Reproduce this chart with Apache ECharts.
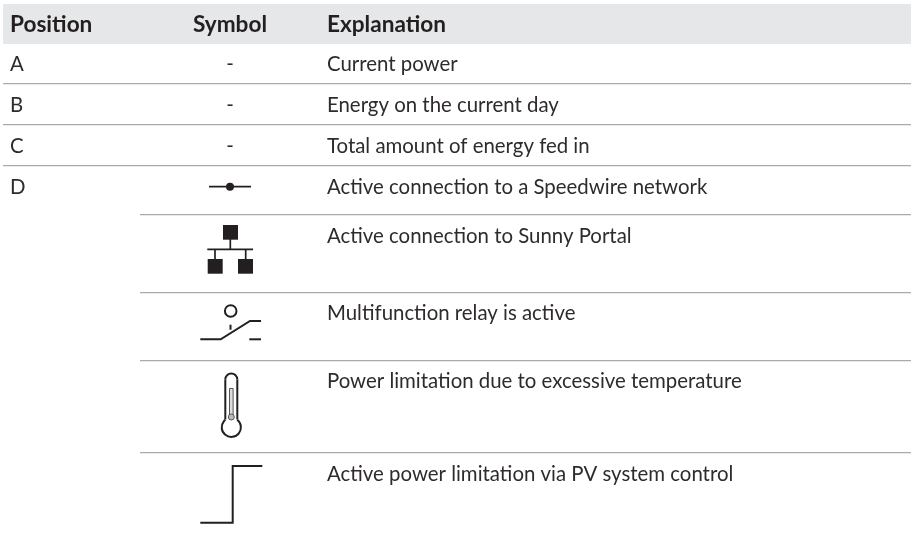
<!DOCTYPE html>
<html><head><meta charset="utf-8">
<style>html,body{margin:0;padding:0;background:#fff}#c{width:911px;height:539px}</style>
<script src="https://cdn.jsdelivr.net/npm/echarts@6/dist/echarts.min.js"></script>
</head><body><div id="c"></div>
<script>
const headers = ['Position','Symbol','Explanation'];
const positions = ['A','B','C','D'];
const dashes = ['-','-','-'];
const explanations = ['Current power','Energy on the current day','Total amount of energy fed in','Active connection to a Speedwire network','Active connection to Sunny Portal','Multifunction relay is active','Power limitation due to excessive temperature','Active power limitation via PV system control'];

const INK='#231f20', FONT='Lato';
const textY=[64,105,146,187,236,313.5,381.5,474];   // middle of text lines per row
const ruleY=[83.7,124.7,165.7,214.7,292.7,360.7,452.7];
const g=[];
g.push({type:'rect',shape:{x:3,y:4,width:908,height:40},style:{fill:'#e6e7e8'}});
ruleY.forEach((y,i)=>g.push({type:'line',shape:{x1:i<3?3:140,y1:y,x2:911,y2:y},style:{stroke:'#a8aaab',lineWidth:1.3}}));
function T(s,x,y,bold,align){g.push({type:'text',x:x,y:y,style:{text:s,x:0,y:0,fill:bold?INK:'#2f2b2c',font:(bold?'bold 22.6px ':'400 20.4px ')+FONT,align:align||'left',verticalAlign:'middle'}});}
T(headers[0],10,25,true);T(headers[1],230,25,true,'center');T(headers[2],327,25,true);
positions.forEach((p,i)=>T(p,10,textY[i]));
dashes.forEach((d,i)=>T(d,230,textY[i],false,'center'));
explanations.forEach((e,i)=>T(e,327,textY[i]));
function L(pts,w,c){g.push({type:'polyline',shape:{points:pts},style:{stroke:c||INK,lineWidth:w||1.7,fill:'none',lineJoin:'miter'}});}
function R(x,y,w,h){g.push({type:'rect',shape:{x,y,width:w,height:h},style:{fill:INK}});}
function C(x,y,r,st){g.push({type:'circle',shape:{cx:x,cy:y,r},style:st});}
function A(x,y,r,a0,a1){g.push({type:'arc',shape:{cx:x,cy:y,r,startAngle:a0,endAngle:a1,clockwise:true},style:{stroke:INK,lineWidth:2,fill:'none'}});}
// connection
L([[209,186.7],[251,186.7]],1.7);C(230,186.7,4,{fill:INK});
// network
R(223,225,15,14.7);R(207.7,259,15,14.7);R(238,259,15,14.7);
L([[207.3,249.3],[253,249.3]],1.7);L([[230.3,239],[230.3,249]],1.7);L([[215,249],[215,259]],1.7);L([[245.7,249],[245.7,259]],1.7);
// relay
C(230.7,311,5.8,{fill:'none',stroke:INK,lineWidth:2});
L([[230.5,324.7],[230.5,329.7]],2);
L([[200.3,339.3],[220.7,339.3],[250,321],[261,321]],2);
L([[249.3,339.3],[261,339.3]],2);
// thermometer
L([[225.3,419.5],[225.3,379.5]],2);L([[237.3,419.5],[237.3,379.5]],2);
A(231.3,379.5,6,Math.PI,2*Math.PI);
A(231.3,427.3,9.6,-0.9,Math.PI+0.9);
g.push({type:'rect',shape:{x:229.5,y:388.5,width:3.6,height:27},style:{fill:'#ddd',stroke:'#555',lineWidth:1}});
C(231.3,417,3,{fill:'#bbb',stroke:'#555',lineWidth:1});
// step
L([[200.3,522.7],[232.7,522.7],[232.7,466],[262.3,466]],2);

const chart=echarts.init(document.getElementById('c'),null,{renderer:'canvas',width:911,height:539});
chart.setOption({animation:false,backgroundColor:'#fff',graphic:{elements:g}});
</script></body></html>
